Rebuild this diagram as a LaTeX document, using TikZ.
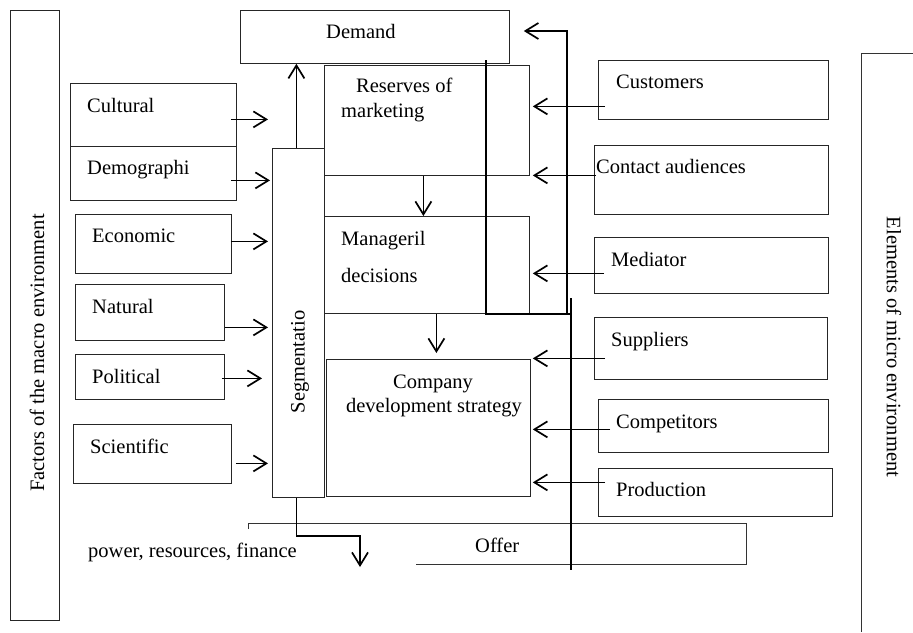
\documentclass[tikz,border=0pt]{standalone}
\usepackage{fontspec}
\setmainfont{Liberation Serif}
\usetikzlibrary{arrows.meta}
\tikzset{
  box/.style={draw=black!85, line width=0.8pt, anchor=north west, inner sep=0pt},
  txt/.style={anchor=base west, inner sep=0pt},
  arr/.style={line width=1.7pt, -{Straight Barb[length=13pt,width=16pt,line width=1.7pt]}},
  frame/.style={draw=black!80, line width=0.8pt},
}
\begin{document}
\begin{tikzpicture}[x=1pt,y=-1pt,font=\fontsize{20.5}{24}\selectfont]
  \useasboundingbox (0,0) rectangle (913,632);
  % outer frames
  \node[box, minimum width=49pt, minimum height=610pt] (macro) at (10,10) {};
  \node[rotate=90] (tmacro) at (37,353) {Factors of the macro environment};
  \draw[frame] (913,53) -- (861,53) -- (861,632);
  \node[rotate=-90] (tmicro) at (894,347) {Elements of micro environment};
  % middle column
  \node[box, minimum width=269pt, minimum height=53pt] (dem) at (240,10) {};
  \node[txt] (tdem) at (326,38) {Demand};
  \node[box, minimum width=205pt, minimum height=110pt] (res) at (324,65) {};
  \node[txt] (tres) at (356,92) {Reserves of};
  \node[txt] (tres2) at (341,117) {marketing};
  \node[box, minimum width=205pt, minimum height=97pt] (man) at (324,216) {};
  \node[txt] (tman) at (341,245) {Manageril};
  \node[txt] (tman2) at (341,282) {decisions};
  \node[box, minimum width=204pt, minimum height=137pt] (comp) at (326,359) {};
  \node[anchor=base, inner sep=0pt] (tcomp) at (433,388) {Company};
  \node[anchor=base, inner sep=0pt] (tcomp2) at (434,412) {development strategy};
  \node[box, minimum width=52pt, minimum height=349pt] (seg) at (272,148) {};
  \node[rotate=90] (tseg) at (300,362) {Segmentatio};
  % macro factors
  \node[box, minimum width=166pt, minimum height=63pt] (cult) at (70,83) {};
  \node[txt] (tcult) at (87,112) {Cultural};
  \node[box, minimum width=166pt, minimum height=54pt] (demo) at (70,146) {};
  \node[txt] (tdemo) at (87,174) {Demographi};
  \node[box, minimum width=156pt, minimum height=59pt] (econ) at (75,214) {};
  \node[txt] (tecon) at (92,242) {Economic};
  \node[box, minimum width=149pt, minimum height=56pt] (nat) at (75,284) {};
  \node[txt] (tnat) at (92,313) {Natural};
  \node[box, minimum width=149pt, minimum height=45pt] (pol) at (75,354) {};
  \node[txt] (tpol) at (92,383) {Political};
  \node[box, minimum width=158pt, minimum height=59pt] (sci) at (73,424) {};
  \node[txt] (tsci) at (90,453) {Scientific};
  % micro elements
  \node[box, minimum width=230pt, minimum height=59pt] (cust) at (598,60) {};
  \node[txt] (tcust) at (616,88) {Customers};
  \node[box, minimum width=234pt, minimum height=69pt] (cont) at (594,145) {};
  \node[txt] (tcont) at (596,173) {Contact audiences};
  \node[box, minimum width=234pt, minimum height=56pt] (medi) at (594,237) {};
  \node[txt] (tmedi) at (611,266) {Mediator};
  \node[box, minimum width=233pt, minimum height=62pt] (supp) at (594,317) {};
  \node[txt] (tsupp) at (611,346) {Suppliers};
  \node[box, minimum width=230pt, minimum height=53pt] (compt) at (598,399) {};
  \node[txt] (tcompt) at (616,428) {Competitors};
  \node[box, minimum width=234pt, minimum height=48pt] (prod) at (598,468) {};
  \node[txt] (tprod) at (616,496) {Production};
  % offer strip
  \draw[frame] (248,529) -- (248,523) -- (746,523) -- (746,564) -- (416,564);
  \node[txt] (offer) at (475,552) {Offer};
  \node[txt] (power) at (88,557) {power, resources, finance};

  % factors into segmentation
  \draw[arr, shorten >=4pt] ([shift={(-6pt,-4.5pt)}]cult.east) -- ([yshift=-4.5pt]cult.east -| seg.west);
  \draw[arr, shorten >=2pt] ([shift={(-6pt,-7pt)}]demo.east) -- ([yshift=-7pt]demo.east -| seg.west);
  \draw[arr, shorten >=4pt] ([shift={(-1pt,2.5pt)}]econ.east) -- ([yshift=2.5pt]econ.east -| seg.west);
  \draw[arr, shorten >=4pt] ([yshift=-15pt]nat.east) -- ([yshift=-15pt]nat.east -| seg.west);
  \draw[arr, shorten >=10pt] ([shift={(-3pt,-1.5pt)}]pol.east) -- ([yshift=-1.5pt]pol.east -| seg.west);
  \draw[arr, shorten >=4pt] ([shift={(4pt,-9.5pt)}]sci.east) -- ([yshift=-9.5pt]sci.east -| seg.west);
  % elements into the middle column
  \draw[arr, shorten >=3pt] ([shift={(7pt,-16.5pt)}]cust.west) -- ([yshift=-16.5pt]cust.west -| res.east);
  \draw[arr, shorten >=3pt] ([shift={(2pt,4.5pt)}]cont.west) -- ([yshift=4.5pt]cont.west -| res.east);
  \draw[arr, shorten >=3pt] ([shift={(10pt,-8pt)}]medi.west) -- ([yshift=-8pt]medi.west -| man.east);
  \draw[arr, shorten >=2pt] ([shift={(11pt,-10pt)}]supp.west) -- ([yshift=-10pt]supp.west -| comp.east);
  \draw[arr, shorten >=2pt] ([shift={(12pt,-3.5pt)}]compt.west) -- ([yshift=-3.5pt]compt.west -| comp.east);
  \draw[arr, shorten >=2pt] ([shift={(7pt,10pt)}]prod.west) -- ([yshift=10pt]prod.west -| comp.east);
  % down the middle
  \draw[arr] ([xshift=-3.5pt]res.south) -- ([xshift=-3.5pt]res.south |- man.north);
  \draw[arr, shorten >=6pt] ([xshift=9.5pt]man.south) -- ([xshift=9.5pt]man.south |- comp.north);
  \draw[arr] ([xshift=-2pt]seg.north) -- ([xshift=-2pt]seg.north |- dem.south);
  \coordinate (flow) at (360,567);
  \draw[arr] ([xshift=-2pt]seg.south) -- ++(0,38) -| (flow);
  % feedback lines
  \coordinate (fbup) at (567,314);
  \coordinate (fbtop) at (567,31);
  \draw[arr, shorten >=14pt] (fbup) -- (fbtop) -- (fbtop -| dem.east);
  \coordinate (fbin) at (486,60);
  \coordinate (fbjoin) at (571,298);
  \coordinate (fbbot) at (571,570);
  \draw[line width=1.5pt] (fbin) |- (fbjoin |- fbup) -- (fbjoin);
  \draw[line width=1.7pt] (fbjoin) -- (fbbot);
\end{tikzpicture}
\end{document}
